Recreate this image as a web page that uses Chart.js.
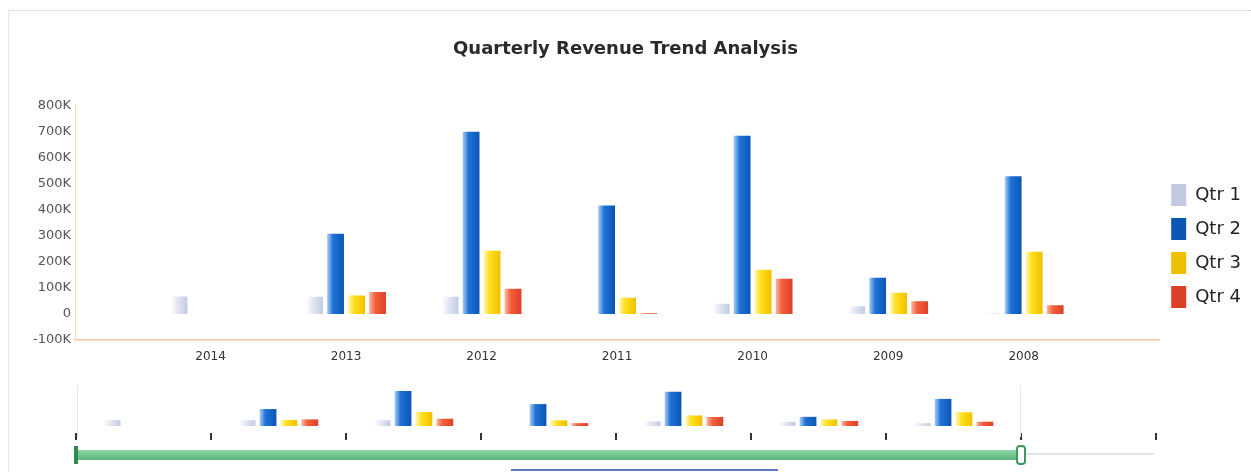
<!DOCTYPE html>
<html>
<head>
<meta charset="utf-8">
<script src="https://cdn.jsdelivr.net/npm/chart.js@4.4.1/dist/chart.umd.min.js"></script>
<style>
  html, body { margin: 0; padding: 0; background: #fff; }
  #wrap { position: relative; width: 1251px; height: 472px; overflow: hidden; }
  #frame { position: absolute; left: 8px; top: 10px; right: 0; bottom: 0; border-top: 1px dotted #c9c9c9; border-left: 1px dotted #d4d4d4; }
  #main { position: absolute; left: 0; top: 0; }
  #nav { position: absolute; left: 0; top: 372px; }
  .win { position: absolute; top: 385px; width: 1px; height: 52px; background: #e8e8e8; }
  #slider { position: absolute; left: 77px; top: 450px; width: 943px; height: 10px; background: linear-gradient(#8fd3a6, #5cb57c); }
  #track { position: absolute; left: 1024px; top: 453px; width: 130px; height: 2px; background: #e2e6ee; }
  #hl { position: absolute; left: 74px; top: 446px; width: 4px; height: 18px; background: #2f8a4c; }
  #hr { position: absolute; left: 1016px; top: 445px; width: 6px; height: 16px; border: 2px solid #3c9a5c; border-radius: 4px; background: #fff; }
  #scroll { position: absolute; left: 511px; top: 469px; width: 267px; height: 2px; background: #5a78c8; }
</style>
</head>
<body>
<div id="wrap">
  <div id="frame"></div>
  <canvas id="main" width="1251" height="472"></canvas>
  <canvas id="nav" width="1251" height="100"></canvas>
  <div class="win" style="left:77px"></div>
  <div class="win" style="left:1020px"></div>
  <div id="slider"></div>
  <div id="track"></div>
  <div id="hl"></div>
  <div id="hr"></div>
  <div id="scroll"></div>
</div>
<script>
// data
const YEARS = ['2014', '2013', '2012', '2011', '2010', '2009', '2008'];
const QUARTERS = ['Qtr 1', 'Qtr 2', 'Qtr 3', 'Qtr 4'];
const QTR1 = [67000, 66000, 66000, null, 39000, 30000, 2000];
const QTR2 = [null, 308000, 700000, 416000, 684000, 139000, 529000];
const QTR3 = [null, 71000, 243000, 62000, 170000, 81000, 239000];
const QTR4 = [null, 84000, 97000, 2500, 135000, 49000, 33000];
const Y_TICKS = { min: -100000, max: 800000, step: 100000 };

const SERIES = [QTR1, QTR2, QTR3, QTR4];
const STOPS = [
  ['#ffffff', '#e6eaf5', '#c2cae2'],
  ['#a9cdf5', '#1f73d6', '#0b55b5'],
  ['#fff7b8', '#ffe01c', '#f0c000'],
  ['#fbb8a0', '#f4603c', '#dd3f28']
];
const CAT_PCT = 0.62;
const BAR_PCT = 0.8;

// horizontal gradient per bar, like the glossy bars in the picture
function barFill(c, stops) {
  if (c.type !== 'data') return stops[1];
  const xs = c.chart.scales.x;
  if (!xs || !xs.width) return stops[1];
  const n = c.chart.data.labels.length;
  const catW = xs.width / (xs.options.offset ? n : n - 1);
  const slot = catW * CAT_PCT / QUARTERS.length;
  const cx = xs.getPixelForValue(c.dataIndex) + (c.datasetIndex - (QUARTERS.length - 1) / 2) * slot;
  const half = slot * BAR_PCT / 2;
  const g = c.chart.ctx.createLinearGradient(cx - half, 0, cx + half, 0);
  g.addColorStop(0, stops[0]);
  g.addColorStop(0.35, stops[1]);
  g.addColorStop(1, stops[2]);
  return g;
}

const font = 'DejaVu Sans';

// main chart: one empty slot on each side of the years
const mainLabels = [''].concat(YEARS, ['']);
new Chart(document.getElementById('main'), {
  type: 'bar',
  data: {
    labels: mainLabels,
    datasets: SERIES.map((s, i) => ({
      label: QUARTERS[i],
      data: [null].concat(s, [null]),
      backgroundColor: c => barFill(c, STOPS[i]),
      borderWidth: 0,
      categoryPercentage: CAT_PCT,
      barPercentage: BAR_PCT
    }))
  },
  options: {
    responsive: false,
    animation: false,
    events: [],
    layout: { padding: { top: 20, left: 0, right: 0, bottom: 0 } },
    plugins: {
      title: {
        display: true,
        text: 'Quarterly Revenue Trend Analysis',
        color: '#2a2a2a',
        font: { family: font, size: 18, weight: 'bold' },
        padding: { top: 19, bottom: 45 }
      },
      legend: {
        position: 'right',
        labels: {
          boxWidth: 15,
          boxHeight: 22,
          padding: 12,
          color: '#222',
          font: { family: font, size: 18 }
        }
      },
      tooltip: { enabled: false }
    },
    scales: {
      x: {
        offset: false,
        grid: { display: false, drawTicks: false },
        border: { display: true, color: '#f7c29c', width: 1.5 },
        ticks: { color: '#333', font: { family: font, size: 12 }, padding: 10, maxRotation: 0, autoSkip: false },
        afterFit: s => { s.height = 132; }
      },
      y: {
        min: Y_TICKS.min,
        max: Y_TICKS.max,
        grid: { display: false, drawTicks: false },
        border: { display: true, color: '#fad5ba', width: 1 },
        ticks: {
          stepSize: Y_TICKS.step,
          color: '#555',
          padding: 4,
          font: { family: font, size: 13 },
          callback: v => v === 0 ? '0' : (v / 1000) + 'K'
        },
        afterFit: s => { s.width = 75; }
      }
    }
  }
});

// navigator strip under the chart
const NAV_MIN = -60000;
new Chart(document.getElementById('nav'), {
  type: 'bar',
  data: {
    labels: YEARS.concat(['']),
    datasets: SERIES.map((s, i) => ({
      label: QUARTERS[i],
      data: s.concat([null]),
      base: NAV_MIN,
      backgroundColor: c => barFill(c, STOPS[i]),
      borderWidth: 0,
      categoryPercentage: CAT_PCT,
      barPercentage: BAR_PCT
    }))
  },
  options: {
    responsive: false,
    animation: false,
    events: [],
    layout: { padding: { top: 19, left: 76, right: 95, bottom: 0 } },
    plugins: { legend: { display: false }, title: { display: false }, tooltip: { enabled: false } },
    scales: {
      x: {
        grid: {
          display: true, drawOnChartArea: false, drawTicks: true, tickLength: 14,
          color: '#333', lineWidth: 2, tickBorderDash: [7, 7], tickBorderDashOffset: 7
        },
        border: { display: false },
        ticks: { display: false },
        afterFit: s => { s.height = 46; }
      },
      y: { display: false, min: NAV_MIN, max: 700000 }
    }
  }
});
</script>
</body>
</html>
